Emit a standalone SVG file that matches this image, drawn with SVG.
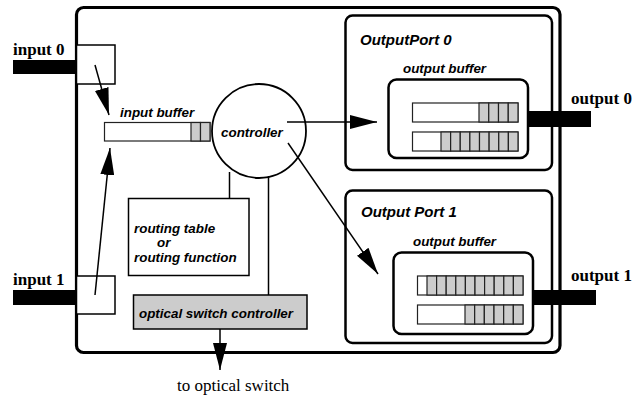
<svg xmlns="http://www.w3.org/2000/svg" width="640" height="396" viewBox="0 0 640 396">
<style>
.lbl{font-family:"Liberation Sans",Arial,sans-serif;font-style:italic;font-weight:bold;font-size:13.4px;fill:#000}
.ttl{font-size:15px}
.ser{font-family:"Liberation Serif","Times New Roman",serif;font-size:17px;fill:#000}
.b{font-weight:bold}
.frame{fill:#fff;stroke:#000;stroke-width:2.5}
.row{fill:#fff;stroke:#222;stroke-width:1.2}
.cell{fill:#ccc;stroke:#222;stroke-width:1.2}
.thin{fill:#fff;stroke:#000;stroke-width:1.5}
.wire{fill:none;stroke:#000;stroke-width:1.5}
.bar{fill:#000}
</style>
<defs>
<marker id="ah" markerUnits="userSpaceOnUse" markerWidth="28" markerHeight="14" refX="27" refY="7" orient="auto">
<path d="M0,0 L27,7 L0,14 z" fill="#000"/>
</marker>
</defs>

<g id="router">
<rect x="76.5" y="7.5" width="483.5" height="345" rx="7" fill="#fff" stroke="#000" stroke-width="3.2"/>
</g>

<g id="input0">
<rect class="bar" x="13" y="60" width="63" height="14"/>
<rect class="thin" x="76.5" y="45" width="38.5" height="39"/>
<text class="ser b" x="13" y="55">input 0</text>
</g>

<g id="input1">
<rect class="bar" x="13" y="290" width="63" height="15"/>
<rect class="thin" x="76.5" y="276" width="38.5" height="38"/>
<text class="ser b" x="13" y="285">input 1</text>
</g>

<g id="inputbuffer">
<rect class="row" x="104.5" y="122.5" width="105.5" height="18.5"/>
<rect class="cell" x="191" y="122.5" width="9.5" height="18.5"/>
<rect class="cell" x="200.5" y="122.5" width="9.5" height="18.5"/>
<text class="lbl" x="120" y="117">input buffer</text>
</g>

<g id="controller">
<circle cx="259" cy="131" r="47" fill="#fff" stroke="#000" stroke-width="1.8"/>
<text class="lbl" x="221" y="137">controller</text>
</g>

<g id="routingtable">
<rect class="thin" x="128.5" y="198.5" width="120.5" height="77"/>
<text class="lbl" x="134" y="233">routing table</text>
<text class="lbl" x="157" y="247">or</text>
<text class="lbl" x="134" y="262">routing function</text>
</g>

<g id="opticalswitchcontroller">
<rect x="133.5" y="295" width="173.5" height="34" fill="#ccc" stroke="#000" stroke-width="1.5"/>
<text class="lbl" x="139" y="318">optical switch controller</text>
</g>

<g id="outputport0">
<rect class="frame" x="345.5" y="15.5" width="206.5" height="154.5" rx="7"/>
<text class="lbl ttl" x="360" y="45">OutputPort 0</text>
<text class="lbl" x="403" y="73">output buffer</text>
<rect class="frame" x="388.5" y="79.5" width="139.5" height="78.5" rx="8"/>
<rect class="row" x="412.5" y="103" width="105.5" height="19"/>
<rect class="cell" x="479" y="103" width="9.75" height="19"/>
<rect class="cell" x="488.75" y="103" width="9.75" height="19"/>
<rect class="cell" x="498.5" y="103" width="9.75" height="19"/>
<rect class="cell" x="508.25" y="103" width="9.75" height="19"/>
<rect class="row" x="412.5" y="132" width="105.5" height="19"/>
<rect class="cell" x="441" y="132" width="9.625" height="19"/>
<rect class="cell" x="450.625" y="132" width="9.625" height="19"/>
<rect class="cell" x="460.25" y="132" width="9.625" height="19"/>
<rect class="cell" x="469.875" y="132" width="9.625" height="19"/>
<rect class="cell" x="479.5" y="132" width="9.625" height="19"/>
<rect class="cell" x="489.125" y="132" width="9.625" height="19"/>
<rect class="cell" x="498.75" y="132" width="9.625" height="19"/>
<rect class="cell" x="508.375" y="132" width="9.625" height="19"/>
</g>

<g id="outputport1">
<rect class="frame" x="345.5" y="190.5" width="206.5" height="152.5" rx="7"/>
<text class="lbl ttl" x="361" y="217">Output Port 1</text>
<text class="lbl" x="413" y="246">output buffer</text>
<rect class="frame" x="393.5" y="252.5" width="139.5" height="81.5" rx="8"/>
<rect class="row" x="417.5" y="276" width="105.5" height="19"/>
<rect class="cell" x="427" y="276" width="9.6" height="19"/>
<rect class="cell" x="436.6" y="276" width="9.6" height="19"/>
<rect class="cell" x="446.2" y="276" width="9.6" height="19"/>
<rect class="cell" x="455.8" y="276" width="9.6" height="19"/>
<rect class="cell" x="465.4" y="276" width="9.6" height="19"/>
<rect class="cell" x="475" y="276" width="9.6" height="19"/>
<rect class="cell" x="484.6" y="276" width="9.6" height="19"/>
<rect class="cell" x="494.2" y="276" width="9.6" height="19"/>
<rect class="cell" x="503.8" y="276" width="9.6" height="19"/>
<rect class="cell" x="513.4" y="276" width="9.6" height="19"/>
<rect class="row" x="417.5" y="305" width="105.5" height="19"/>
<rect class="cell" x="465" y="305" width="9.67" height="19"/>
<rect class="cell" x="474.67" y="305" width="9.67" height="19"/>
<rect class="cell" x="484.33" y="305" width="9.67" height="19"/>
<rect class="cell" x="494" y="305" width="9.67" height="19"/>
<rect class="cell" x="503.67" y="305" width="9.67" height="19"/>
<rect class="cell" x="513.33" y="305" width="9.67" height="19"/>
</g>

<g id="output0">
<rect class="bar" x="528" y="111" width="63" height="16"/>
<text class="ser b" x="571" y="104">output 0</text>
</g>

<g id="output1">
<rect class="bar" x="533" y="290" width="63" height="15"/>
<text class="ser b" x="571" y="281">output 1</text>
</g>

<g id="connectors">
<line class="wire" x1="95" y1="65" x2="109" y2="115" marker-end="url(#ah)"/>
<line class="wire" x1="95" y1="295" x2="110" y2="148" marker-end="url(#ah)"/>
<line class="wire" x1="287" y1="122" x2="377" y2="122" marker-end="url(#ah)"/>
<line class="wire" x1="288" y1="143" x2="378" y2="274" marker-end="url(#ah)"/>
<line class="wire" x1="229.5" y1="172" x2="229.5" y2="198.5"/>
<line class="wire" x1="268.5" y1="176" x2="268.5" y2="295"/>
<line class="wire" x1="220" y1="329" x2="220" y2="370" marker-end="url(#ah)"/>
</g>

<text class="ser" x="177" y="391">to optical switch</text>
</svg>
